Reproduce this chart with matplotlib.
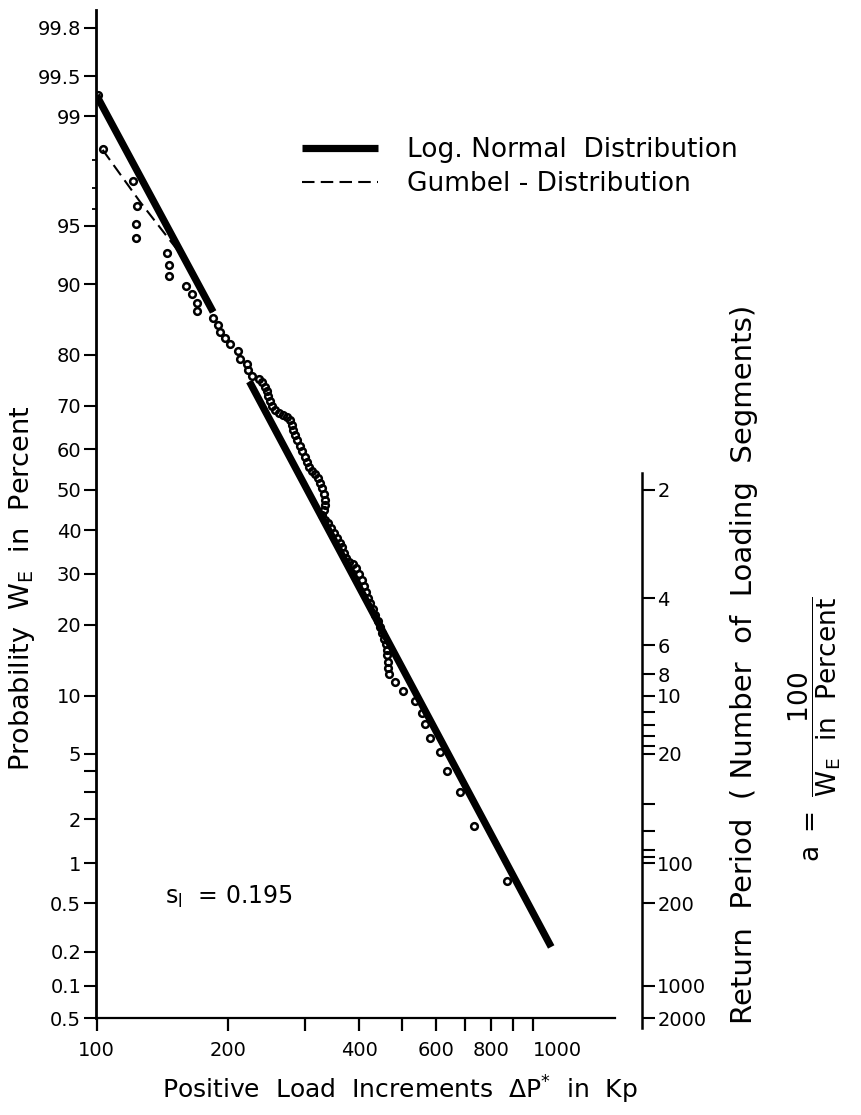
import numpy as np
import matplotlib
matplotlib.use("Agg")
import matplotlib.pyplot as plt
from matplotlib import ticker
from matplotlib.lines import Line2D
from statistics import NormalDist

plt.rcParams['font.family'] = ['DejaVu Sans']
plt.rcParams['mathtext.default'] = 'regular'

# observed load increments (Kp) and their probability (percent)
load_kp = [100.8, 103.3, 121.4, 123.6, 123.1, 123.1, 145.2, 146.3, 146.8, 160.3,
           165.1, 170.1, 169.8, 184.5, 189.9, 191.7, 196.8, 202.1, 211.1, 213.0,
           220.6, 222.5, 226.5, 235.8,
           239.1, 242.9, 245.5, 246.8, 249.5, 252.1, 256.1, 261.6, 267.2, 272.9,
           277.2, 280.2, 281.7, 284.7, 287.7, 292.3, 295.4, 300.1, 303.2, 306.5,
           311.3, 316.2, 321.3, 324.7, 328.1, 331.6, 333.4, 333.4, 331.6, 328.1,
           333.4, 338.7, 344.1, 349.6, 355.2, 360.8, 364.6, 368.5, 372.4, 378.3,
           386.4, 392.5, 398.8, 405.1, 409.4, 413.8, 418.2, 422.6, 429.3, 433.9,
           440.8, 445.5, 450.2, 455.0, 459.8, 462.3, 462.3, 464.5, 464.5, 467.0,
           482.0, 503.6, 535.6, 557.8, 564.6, 581.8, 610.9, 634.9, 681.4, 730.9,
           871.0]
prob_pct = [99.30, 98.32, 97.28, 96.17, 95.13, 94.16, 92.99, 91.91, 90.84, 89.78,
            88.91, 87.82, 86.75, 85.84, 84.80, 83.65, 82.78, 81.81, 80.58, 79.26,
            78.36, 77.13, 75.99, 75.54,
            75.0, 74.0, 73.0, 72.0, 70.9, 69.9, 69.0, 68.3, 67.9, 67.4,
            66.8, 65.6, 64.5, 63.3, 62.2, 60.7, 59.5, 58.1, 56.9, 55.7,
            54.7, 53.9, 53.0, 51.7, 50.5, 49.0, 47.5, 46.3, 45.1, 43.8,
            42.6, 41.7, 40.5, 39.3, 38.3, 37.1, 36.0, 34.8, 33.5, 32.6,
            32.3, 31.2, 29.9, 28.7, 27.4, 26.2, 25.0, 24.0, 22.9, 21.8,
            20.7, 19.6, 18.6, 17.6, 16.9, 15.9, 15.1, 14.2, 13.4, 12.6,
            11.6, 10.5, 9.4, 8.2, 7.2, 6.1, 5.1, 4.0, 3.0, 1.8,
            0.74]

# fitted distributions (the log-normal line is interrupted where the points are)
lognorm_kp = [100, 185, np.nan, 224, 1100]
lognorm_pct = [99.3, 86.6, np.nan, 75.0, 0.22]
gumbel_kp = [103.3, 125.7, 152.8, 185, np.nan, 224, 474.6, 1079]
gumbel_pct = [98.29, 96.37, 93.30, 86.6, np.nan, 75.0, 16.1, 0.25]

# axis ticks
y_ticks = [99.8, 99.5, 99, 95, 90, 80, 70, 60, 50, 40, 30, 20, 10, 5, 4, 3, 2, 1, 0.5, 0.2, 0.1, 0.05]
y_labels = ['99.8', '99.5', '99', '95', '90', '80', '70', '60', '50', '40', '30', '20', '10', '5',
            '', '', '2', '1', '0.5', '0.2', '0.1', '0.5']
y_minor = [98, 97, 96]
x_ticks = [100, 200, 300, 400, 500, 600, 700, 800, 900, 1000]
x_labels = ['100', '200', '', '400', '', '600', '', '800', '', '1000']
return_major = [2, 4, 6, 8, 10, 20, 100, 200, 1000, 2000]
return_minor = [12, 14, 16, 18, 40, 60, 80, 90]

# normal probability scale
_nd = NormalDist()
_ppf = np.vectorize(_nd.inv_cdf, otypes=[float])
_cdf = np.vectorize(_nd.cdf, otypes=[float])


def prob_to_z(p):
    p = np.asarray(p, dtype=float)
    q = np.clip(np.nan_to_num(p, nan=50.0) / 100.0, 1e-12, 1 - 1e-12)
    return np.where(np.isnan(p), np.nan, _ppf(q))


def z_to_prob(z):
    z = np.asarray(z, dtype=float)
    return 100.0 * _cdf(z)


W, H = 862, 1115
fig = plt.figure(figsize=(W / 100, H / 100), dpi=100)
ax = fig.add_axes([96.5 / W, 97 / H, 518.5 / W, 1008 / H])

ax.set_xscale('log')
ax.set_yscale('function', functions=(prob_to_z, z_to_prob))
ax.set_xlim(100, 1540)
ax.set_ylim(0.05, 99.86)

ax.plot(gumbel_kp, gumbel_pct, color='black', lw=1.5, dashes=(6, 3), zorder=2)
ax.plot(lognorm_kp, lognorm_pct, color='black', lw=5.2, solid_capstyle='butt', zorder=3)
ax.plot(load_kp, prob_pct, 'o', ms=4.8, mfc='none', mec='black', mew=1.8, zorder=4)

ax.set_xticks(x_ticks, x_labels)
ax.xaxis.set_minor_locator(ticker.NullLocator())
ax.set_yticks(y_ticks, y_labels)
ax.set_yticks(y_minor, minor=True)
ax.tick_params(axis='x', which='major', direction='out', length=9.5, width=1.6, labelsize=14, pad=7)
ax.tick_params(axis='y', which='major', direction='out', length=9, width=1.5, labelsize=14, pad=2)
ax.tick_params(axis='y', which='minor', direction='out', length=3, width=1.3)
ax.get_xticklabels()[-1].set_horizontalalignment('left')
ax.spines['top'].set_visible(False)
ax.spines['right'].set_visible(False)
ax.spines['left'].set_linewidth(2)
ax.spines['bottom'].set_linewidth(1.6)

# return period scale
ax2 = ax.twinx()
ax2.set_yscale('function', functions=(prob_to_z, z_to_prob))
ax2.set_ylim(ax.get_ylim())
for side in ['left', 'top', 'bottom']:
    ax2.spines[side].set_visible(False)
ax2.spines['right'].set_position(('axes', 1.052))
ax2.spines['right'].set_linewidth(1.8)
ax2.spines['right'].set_bounds(0.04, 54.2)
ax2.set_yticks([100 / t for t in return_major], [str(t) for t in return_major])
ax2.set_yticks([100 / t for t in return_minor], minor=True)
ax2.yaxis.set_minor_formatter(ticker.NullFormatter())
ax2.tick_params(axis='y', which='both', direction='out', length=9, width=1.5, labelsize=14, pad=2)

legend_handles = [Line2D([], [], color='black', lw=5.2, solid_capstyle='butt'),
                  Line2D([], [], color='black', lw=1.5, dashes=(6, 3))]
ax.legend(legend_handles, ['Log. Normal  Distribution', 'Gumbel - Distribution'],
          loc='upper left', bbox_to_anchor=(302 / W, 1 - 137 / H), bbox_transform=fig.transFigure,
          frameon=False, fontsize=19, handlelength=2.88, handletextpad=1.1,
          labelspacing=0.3, borderpad=0, borderaxespad=0)

fig.text(400 / W, 1 - 1090 / H, r'Positive  Load  Increments  $\Delta P^{*}$  in  Kp',
         fontsize=18, ha='center', va='center')
fig.text(22 / W, 1 - 588 / H, r'Probability  $W_E$  in  Percent',
         fontsize=19.5, rotation=90, ha='center', va='center')
fig.text(744 / W, 1 - 664 / H, 'Return  Period  ( Number  of  Loading  Segments)',
         fontsize=21, rotation=90, ha='center', va='center')
fig.text(815 / W, 1 - 729 / H, r'$a\ =\ \dfrac{100}{W_E\ \ in\ \ Percent}$',
         fontsize=19, rotation=90, ha='center', va='center')
fig.text(165 / W, 1 - 897 / H, r'$s_l$  = 0.195', fontsize=17, ha='left', va='center')

fig.savefig('out.png', dpi=100)
